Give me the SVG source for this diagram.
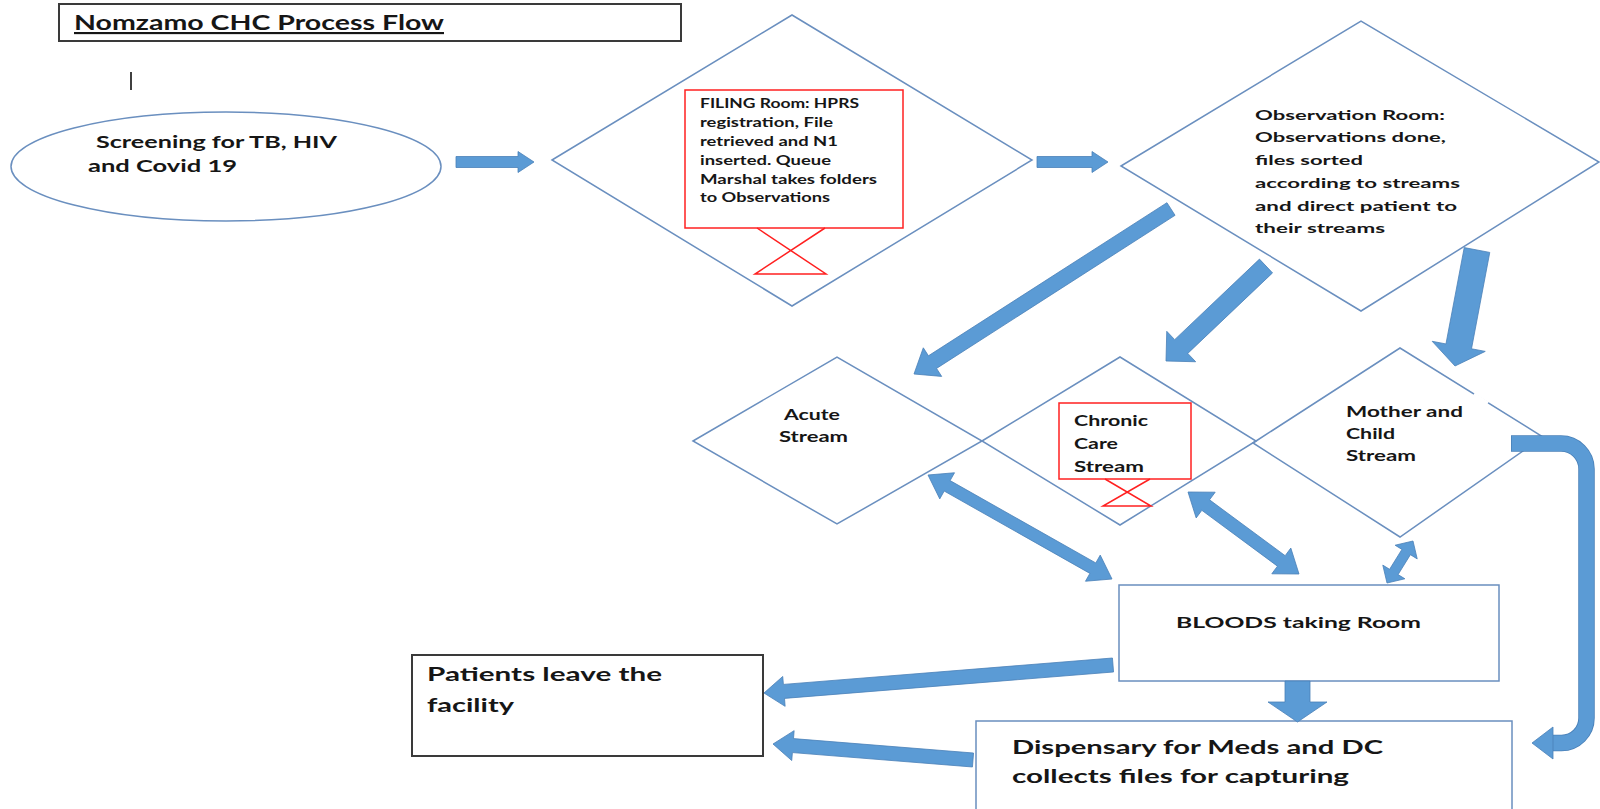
<svg xmlns="http://www.w3.org/2000/svg" width="1600" height="809" viewBox="0 0 1600 809">
<style>
.t{font-family:Lato,"Liberation Sans",Arial,sans-serif;font-weight:bold;fill:#161616}
.dm{fill:#ffffff;stroke:#6a8fbf;stroke-width:1.5}
.red{fill:none;stroke:#ff2020;stroke-width:1.5}
.bx{fill:#ffffff;stroke:#6a8fbf;stroke-width:1.5}
.kb{fill:#ffffff;stroke:#3a3a3a;stroke-width:2}
.ar{fill:#5b9bd5;stroke:#4a80b8;stroke-width:0.8;stroke-linejoin:miter}
</style>
<rect width="1600" height="809" fill="#ffffff"/>

<g id="title">
<rect class="kb" x="59" y="4" width="622" height="37"/>
<text class="t" x="74" y="30" font-size="21.5" textLength="370" lengthAdjust="spacingAndGlyphs" text-decoration="underline">Nomzamo CHC Process Flow</text>
</g>

<line x1="131" y1="72" x2="131" y2="90" stroke="#000" stroke-width="1.5"/>

<g id="screening">
<ellipse cx="226" cy="166.5" rx="215" ry="54.5" fill="#fff" stroke="#6a8fbf" stroke-width="1.5"/>
<text class="t" x="96" y="148" font-size="17" textLength="241" lengthAdjust="spacingAndGlyphs">Screening for TB, HIV</text>
<text class="t" x="88" y="172" font-size="17" textLength="149" lengthAdjust="spacingAndGlyphs">and Covid 19</text>
</g>

<g id="filing">
<polygon class="dm" points="552,160 792,15 1032,160 792,306"/>
<rect x="685" y="90" width="218" height="138" fill="#fff" stroke="#ff2020" stroke-width="1.5"/>
<polyline class="red" points="757,228 826,274 755,274 825,228"/>
<text class="t" font-size="13" x="700" y="108" textLength="159" lengthAdjust="spacingAndGlyphs">FILING Room: HPRS</text>
<text class="t" font-size="13" x="700" y="127" textLength="133" lengthAdjust="spacingAndGlyphs">registration, File</text>
<text class="t" font-size="13" x="700" y="146" textLength="138" lengthAdjust="spacingAndGlyphs">retrieved and N1</text>
<text class="t" font-size="13" x="700" y="165" textLength="131" lengthAdjust="spacingAndGlyphs">inserted. Queue</text>
<text class="t" font-size="13" x="700" y="184" textLength="177" lengthAdjust="spacingAndGlyphs">Marshal takes folders</text>
<text class="t" font-size="13" x="700" y="202" textLength="130" lengthAdjust="spacingAndGlyphs">to Observations</text>
</g>

<g id="observation">
<polygon class="dm" points="1121,166 1361,21 1599,162 1361,311"/>
<text class="t" font-size="14" x="1255" y="120" textLength="190" lengthAdjust="spacingAndGlyphs">Observation Room:</text>
<text class="t" font-size="14" x="1255" y="142" textLength="191" lengthAdjust="spacingAndGlyphs">Observations done,</text>
<text class="t" font-size="14" x="1255" y="165" textLength="108" lengthAdjust="spacingAndGlyphs">files sorted</text>
<text class="t" font-size="14" x="1255" y="188" textLength="205" lengthAdjust="spacingAndGlyphs">according to streams</text>
<text class="t" font-size="14" x="1255" y="211" textLength="202" lengthAdjust="spacingAndGlyphs">and direct patient to</text>
<text class="t" font-size="14" x="1255" y="233" textLength="130" lengthAdjust="spacingAndGlyphs">their streams</text>
</g>

<g id="acute">
<polygon points="693,441 837,357 982,441 837,524" fill="none" stroke="#6a8fbf" stroke-width="1.5"/>
<text class="t" font-size="15" x="784" y="420" textLength="56" lengthAdjust="spacingAndGlyphs">Acute</text>
<text class="t" font-size="15" x="779" y="442" textLength="69" lengthAdjust="spacingAndGlyphs">Stream</text>
</g>

<g id="chronic">
<polygon points="982,441 1120,357 1256,441 1120,525" fill="none" stroke="#6a8fbf" stroke-width="1.5"/>
<rect x="1059" y="403" width="132" height="76" fill="#fff" stroke="#ff2020" stroke-width="1.5"/>
<polyline class="red" points="1105,479 1151,506 1103,506 1150,479"/>
<text class="t" font-size="15" x="1074" y="426" textLength="74" lengthAdjust="spacingAndGlyphs">Chronic</text>
<text class="t" font-size="15" x="1074" y="449" textLength="44" lengthAdjust="spacingAndGlyphs">Care</text>
<text class="t" font-size="15" x="1074" y="472" textLength="70" lengthAdjust="spacingAndGlyphs">Stream</text>
</g>

<g id="mother">
<polygon points="1253,443 1400,348 1543,437 1400,537" fill="none" stroke="#6a8fbf" stroke-width="1.5"/>
<line x1="1474" y1="394" x2="1488" y2="403" stroke="#ffffff" stroke-width="3"/>
<text class="t" font-size="15" x="1346" y="417" textLength="117" lengthAdjust="spacingAndGlyphs">Mother and</text>
<text class="t" font-size="15" x="1346" y="439" textLength="49" lengthAdjust="spacingAndGlyphs">Child</text>
<text class="t" font-size="15" x="1346" y="461" textLength="70" lengthAdjust="spacingAndGlyphs">Stream</text>
</g>

<g id="bloods">
<rect class="bx" x="1119" y="585" width="380" height="96"/>
<text class="t" font-size="16" x="1176" y="628" textLength="245" lengthAdjust="spacingAndGlyphs">BLOODS taking Room</text>
</g>

<g id="patients">
<rect class="kb" x="412" y="655" width="351" height="101"/>
<text class="t" font-size="18.5" x="427" y="681" textLength="235" lengthAdjust="spacingAndGlyphs">Patients leave the</text>
<text class="t" font-size="18.5" x="427" y="712" textLength="87" lengthAdjust="spacingAndGlyphs">facility</text>
</g>

<g id="dispensary">
<rect class="bx" x="976" y="721" width="536" height="110"/>
<text class="t" font-size="18.5" x="1012" y="754" textLength="371" lengthAdjust="spacingAndGlyphs">Dispensary for Meds and DC</text>
<text class="t" font-size="18.5" x="1012" y="783" textLength="337" lengthAdjust="spacingAndGlyphs">collects files for capturing</text>
</g>

<g id="connectors">
<polygon class="ar" points="456,156.5 518,156.5 518,151.5 534,162 518,172.5 518,167.5 456,167.5"/>
<polygon class="ar" points="1037,156.5 1092,156.5 1092,151.5 1108,162 1092,172.5 1092,167.5 1037,167.5"/>
<polygon class="ar" points="1166.95,202.69 928.45,355.79 923.31,347.79 914,374 941.69,376.41 936.55,368.41 1175.05,215.31"/>
<polygon class="ar" points="1259.46,259.11 1174.69,339.64 1166.76,331.3 1166,361 1195.7,361.76 1187.77,353.42 1272.54,272.89"/>
<polygon class="ar" points="1464.23,247.58 1445.96,343.93 1432.2,341.32 1455,366 1485.26,351.38 1471.5,348.77 1489.77,252.42"/>
<polygon class="ar" points="928,475 939.77,498.88 944.2,491.04 1089.9,573.4 1085.47,581.24 1112,579 1100.23,555.12 1095.8,562.96 950.1,480.6 954.53,472.76"/>
<polygon class="ar" points="1188,492 1196.18,517.94 1201.83,510.3 1277.45,566.16 1271.8,573.8 1299,574 1290.82,548.06 1285.17,555.7 1209.55,499.84 1215.2,492.2"/>
<polygon class="ar" points="1413,541 1395.11,545.21 1401.91,549.42 1389.59,569.32 1382.79,565.11 1387,583 1404.89,578.79 1398.09,574.58 1410.41,554.68 1417.21,558.89"/>
<path d="M1511,443.5 H1561 A25.5 25.5 0 0 1 1586.5,469 V718 A25 25 0 0 1 1561.5,743 H1550" fill="none" stroke="#4a80b8" stroke-width="16.5"/>
<path d="M1511.8,443.5 H1561 A25.5 25.5 0 0 1 1586.5,469 V718 A25 25 0 0 1 1561.5,743 H1549" fill="none" stroke="#5b9bd5" stroke-width="14.8"/>
<polygon class="ar" points="1553,735.5 1553,727 1532,743 1553,759 1553,750.5"/>
<polygon class="ar" points="1285,681 1310,681 1310,702 1327,702 1297.5,722 1268,702 1285,702"/>
<polygon class="ar" points="1112.44,658.02 783.38,684.42 782.74,676.45 764,693 785.14,706.35 784.5,698.38 1113.56,671.98"/>
<polygon class="ar" points="973.56,753.02 793.5,738.61 794.14,730.64 773,744 791.74,760.54 792.38,752.57 972.44,766.98"/>
</g>
</svg>
